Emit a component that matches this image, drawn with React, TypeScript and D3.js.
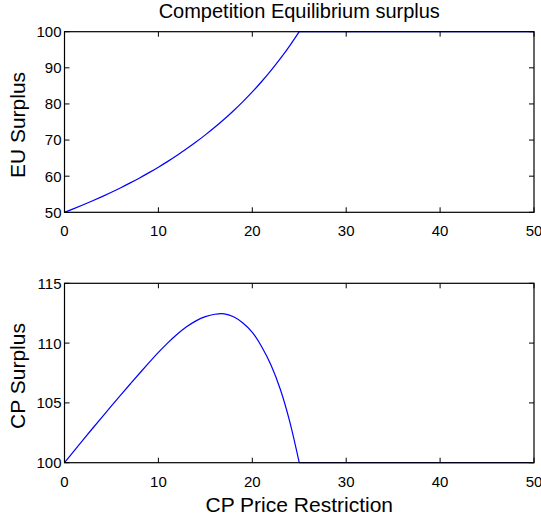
import React, { useEffect, useRef } from "react";
import * as d3 from "d3";

// x values (CP price restriction) where the curves were read
const priceX = [
  0, 1, 2, 3, 4, 5, 6, 7, 8, 9, 10, 11, 12, 13, 14, 15, 16, 17, 18, 19, 20, 21,
  22, 23, 24, 25, 30, 40, 50,
];

// EU surplus
const euSurplus = [
  50, 51.02, 52.08, 53.19, 54.35, 55.56, 56.82, 58.14, 59.52, 60.98, 62.5,
  64.1, 65.79, 67.57, 69.44, 71.43, 73.53, 75.76, 78.13, 80.65, 83.33, 86.21,
  89.29, 92.59, 96.15, 100, 100, 100, 100,
];

// CP surplus
const cpSurplus = [
  100, 100.97, 101.93, 102.88, 103.82, 104.75, 105.67, 106.58, 107.48, 108.36,
  109.22, 110.02, 110.74, 111.36, 111.86, 112.21, 112.41, 112.45, 112.2, 111.68,
  110.9, 109.7, 108.15, 106.1, 103.4, 100, 100, 100, 100,
];

// where the curves reach the bound and go flat
const kinkX = 25;

const xTicks = [0, 10, 20, 30, 40, 50];
const euTicks = [50, 60, 70, 80, 90, 100];
const cpTicks = [100, 105, 110, 115];

const title = "Competition Equilibrium surplus";
const xLabel = "CP Price Restriction";
const euLabel = "EU Surplus";
const cpLabel = "CP Surplus";

const FONT = "'Liberation Sans', Arial, Helvetica, sans-serif";

type Panel = {
  top: number;
  bottom: number;
  values: number[];
  yTicks: number[];
  yLabel: string;
};

const App = () => {
  const ref = useRef<SVGSVGElement | null>(null);

  useEffect(() => {
    if (ref.current) drawChart(ref.current);
  }, []);

  return (
    <svg
      ref={ref}
      width={541}
      height={518}
      style={{ position: "absolute", left: 0, top: 0, background: "#fff" }}
    />
  );
};

function drawChart(node: SVGSVGElement) {
  const svg = d3.select(node);
  svg.selectAll("*").remove();

  const left = 64.5;
  const right = 534;
  const x = d3.scaleLinear().domain([0, 50]).range([left, right]);

  const panels: Panel[] = [
    { top: 31.7, bottom: 212.3, values: euSurplus, yTicks: euTicks, yLabel: euLabel },
    { top: 283.3, bottom: 462.7, values: cpSurplus, yTicks: cpTicks, yLabel: cpLabel },
  ];

  panels.forEach((p) => {
    const y = d3
      .scaleLinear()
      .domain([p.yTicks[0], p.yTicks[p.yTicks.length - 1]])
      .range([p.bottom, p.top]);

    const g = svg.append("g");

    const pts: [number, number][] = priceX.map((px, i) => [px, p.values[i]]);
    const rising = pts.filter((d) => d[0] <= kinkX);
    const flat = pts.filter((d) => d[0] >= kinkX);

    // smooth part up to the kink
    const smooth = d3
      .line<[number, number]>()
      .x((d) => x(d[0]))
      .y((d) => y(d[1]))
      .curve(d3.curveCatmullRom.alpha(0.5));

    const straight = d3
      .line<[number, number]>()
      .x((d) => x(d[0]))
      .y((d) => y(d[1]));

    g.append("path")
      .datum(rising)
      .attr("fill", "none")
      .attr("stroke", "#0000ff")
      .attr("stroke-width", 1.2)
      .attr("d", smooth);

    g.append("path")
      .datum(flat)
      .attr("fill", "none")
      .attr("stroke", "#0000ff")
      .attr("stroke-width", 1.2)
      .attr("d", straight);

    // box
    g.append("rect")
      .attr("x", left)
      .attr("y", p.top)
      .attr("width", right - left)
      .attr("height", p.bottom - p.top)
      .attr("fill", "none")
      .attr("stroke", "#000")
      .attr("stroke-width", 1.2);

    // inward ticks, bottom and top
    const tickLen = 5;
    g.selectAll(".xt")
      .data(xTicks)
      .enter()
      .append("path")
      .attr(
        "d",
        (d) =>
          `M${x(d)},${p.bottom}v${-tickLen}M${x(d)},${p.top}v${tickLen}`
      )
      .attr("stroke", "#000")
      .attr("stroke-width", 1);

    // inward ticks, left and right
    g.selectAll(".yt")
      .data(p.yTicks)
      .enter()
      .append("path")
      .attr(
        "d",
        (d) => `M${left},${y(d)}h${tickLen}M${right},${y(d)}h${-tickLen}`
      )
      .attr("stroke", "#000")
      .attr("stroke-width", 1);

    // x tick labels
    g.selectAll(".xl")
      .data(xTicks)
      .enter()
      .append("text")
      .attr("x", (d) => x(d))
      .attr("y", p.bottom + 24)
      .attr("text-anchor", "middle")
      .style("font-family", FONT)
      .style("font-size", "15px")
      .attr("fill", "#000")
      .text((d) => String(d));

    // y tick labels
    g.selectAll(".yl")
      .data(p.yTicks)
      .enter()
      .append("text")
      .attr("x", left - 3)
      .attr("y", (d) => y(d))
      .attr("dy", "0.36em")
      .attr("text-anchor", "end")
      .style("font-family", FONT)
      .style("font-size", "15px")
      .attr("fill", "#000")
      .text((d) => String(d));

    // y axis label
    g.append("text")
      .attr(
        "transform",
        `translate(${25},${(p.top + p.bottom) / 2 + 3}) rotate(-90)`
      )
      .attr("text-anchor", "middle")
      .style("font-family", FONT)
      .style("font-size", "21px")
      .attr("fill", "#000")
      .text(p.yLabel);
  });

  // title
  svg
    .append("text")
    .attr("x", (left + right) / 2)
    .attr("y", 18)
    .attr("text-anchor", "middle")
    .style("font-family", FONT)
    .style("font-size", "20px")
    .attr("fill", "#000")
    .text(title);

  // x axis label
  svg
    .append("text")
    .attr("x", (left + right) / 2)
    .attr("y", 512)
    .attr("text-anchor", "middle")
    .style("font-family", FONT)
    .style("font-size", "21px")
    .attr("fill", "#000")
    .text(xLabel);
}

export default App;
